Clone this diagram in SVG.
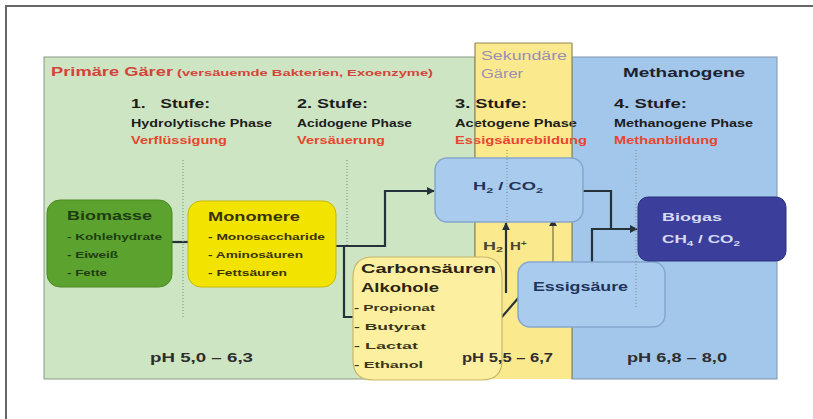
<svg xmlns="http://www.w3.org/2000/svg" width="813" height="419" viewBox="0 0 813 419">
  <defs>
    <style>
      text { font-family: "Liberation Sans", Arial, sans-serif; font-weight: bold; }
      .hdr { font-size: 13px; fill: #1c1c1c; }
      .phase { font-size: 10.5px; fill: #1c1c1c; }
      .red { font-size: 10.5px; fill: #e8452f; }
      .ph { font-size: 12.5px; fill: #2e2e2e; }
      .title { font-size: 13px; }
      .item { font-size: 9.5px; }
      .conn { fill: none; stroke: #26323a; stroke-width: 2.2; }
      .guide { fill: none; stroke: #7d8b80; stroke-width: 1; stroke-dasharray: 1 2; }
      .bluebox { fill: #a9cbee; stroke: #86a6cc; stroke-width: 1.5; }
    </style>
    <marker id="arrow" viewBox="0 0 10 10" refX="9" refY="5" markerWidth="8" markerHeight="8" orient="auto" markerUnits="userSpaceOnUse">
      <path d="M0,0 L10,5 L0,10 z" fill="#26323a"/>
    </marker>
  </defs>

  <rect width="813" height="419" fill="#ffffff"/>
  <!-- outer frame -->
  <path d="M6,419 V6 H813" fill="none" stroke="#666666" stroke-width="2"/>

  <!-- phase panels -->
  <g id="panels">
    <rect x="44" y="57" width="431" height="322" fill="#cde5c3" stroke="#8a9a88" stroke-width="1"/>
    <rect x="572" y="57" width="205" height="322" fill="#a3c7ea" stroke="#7c93ad" stroke-width="1"/>
    <rect x="475" y="43" width="97" height="336" fill="#fbe98e"/>
  </g>

  <!-- phase headings -->
  <g id="headings">
    <text x="51" y="76" fill="#d4443a" style="font-size:12.5px" textLength="122" lengthAdjust="spacingAndGlyphs">Primäre Gärer</text>
    <text x="177" y="76" fill="#d4443a" style="font-size:9.5px" textLength="256" lengthAdjust="spacingAndGlyphs">(versäuemde Bakterien, Exoenzyme)</text>
    <text x="481" y="60" fill="#9c8fb4" style="font-size:12px;font-weight:normal" textLength="86" lengthAdjust="spacingAndGlyphs">Sekundäre</text>
    <text x="481" y="78" fill="#9c8fb4" style="font-size:12px;font-weight:normal" textLength="42" lengthAdjust="spacingAndGlyphs">Gärer</text>
    <text x="623" y="77" fill="#1c2230" style="font-size:12.5px" textLength="122" lengthAdjust="spacingAndGlyphs">Methanogene</text>

    <text class="hdr" x="131" y="108" textLength="79" lengthAdjust="spacingAndGlyphs">1.&#160;&#160; Stufe:</text>
    <text class="hdr" x="297" y="108" textLength="71" lengthAdjust="spacingAndGlyphs">2. Stufe:</text>
    <text class="hdr" x="455" y="108" textLength="72" lengthAdjust="spacingAndGlyphs">3. Stufe:</text>
    <text class="hdr" x="614" y="108" textLength="73" lengthAdjust="spacingAndGlyphs">4. Stufe:</text>

    <text class="phase" x="131" y="127" textLength="141" lengthAdjust="spacingAndGlyphs">Hydrolytische Phase</text>
    <text class="phase" x="297" y="127" textLength="115" lengthAdjust="spacingAndGlyphs">Acidogene Phase</text>
    <text class="phase" x="455" y="127" textLength="122" lengthAdjust="spacingAndGlyphs">Acetogene Phase</text>
    <text class="phase" x="614" y="127" textLength="139" lengthAdjust="spacingAndGlyphs">Methanogene Phase</text>

    <text class="red" x="131" y="144" textLength="96" lengthAdjust="spacingAndGlyphs">Verflüssigung</text>
    <text class="red" x="297" y="144" textLength="88" lengthAdjust="spacingAndGlyphs">Versäuerung</text>
    <text class="red" x="455" y="144" textLength="132" lengthAdjust="spacingAndGlyphs">Essigsäurebildung</text>
    <text class="red" x="614" y="144" textLength="104" lengthAdjust="spacingAndGlyphs">Methanbildung</text>

    <!-- yellow column edges drawn over the heading text -->
    <path d="M475,43 V379 M572,43 V379 M475,43 H572" fill="none" stroke="#8f8a55" stroke-width="1.2"/>

    <text class="ph" x="150" y="362" textLength="103" lengthAdjust="spacingAndGlyphs">pH 5,0 – 6,3</text>
    <text class="ph" x="627" y="362" textLength="100" lengthAdjust="spacingAndGlyphs">pH 6,8 – 8,0</text>
  </g>

  <!-- connectors -->
  <g id="connectors">
    <path class="conn" d="M172,242 H188"/>
    <path class="conn" d="M336,246 H385 V191 H434" marker-end="url(#arrow)"/>
    <path class="conn" d="M344,246 V317 H353"/>
    <path class="conn" d="M506,293 V223" stroke="#3a3420" marker-end="url(#arrow)"/>
    <path class="conn" d="M553,262 V219" style="stroke:#857744;stroke-width:1.3" marker-end="url(#arrow)"/>
    <path class="conn" d="M501,318 L520,296"/>
    <path class="conn" d="M583,191 H611 V229"/>
    <path class="conn" d="M592,262 V229 H637" marker-end="url(#arrow)"/>
    <text x="483" y="250" fill="#4a4530" style="font-size:10px" textLength="20" lengthAdjust="spacingAndGlyphs">H<tspan style="font-size:7px" dy="2">2</tspan></text>
    <text x="510" y="250" fill="#4a4530" style="font-size:10px" textLength="17" lengthAdjust="spacingAndGlyphs">H<tspan style="font-size:7px" dy="-4">+</tspan></text>
  </g>

  <g id="biomasse">
    <rect x="47" y="200" width="125" height="87" rx="13" fill="#5ca22e" stroke="#4b8a22" stroke-width="1"/>
    <text class="title" x="67" y="220" fill="#1e3d12" textLength="85" lengthAdjust="spacingAndGlyphs">Biomasse</text>
    <text class="item" x="67" y="240" fill="#1e3d12" textLength="95" lengthAdjust="spacingAndGlyphs">- Kohlehydrate</text>
    <text class="item" x="67" y="258" fill="#1e3d12" textLength="51" lengthAdjust="spacingAndGlyphs">- Eiweiß</text>
    <text class="item" x="67" y="276" fill="#1e3d12" textLength="40" lengthAdjust="spacingAndGlyphs">- Fette</text>
  </g>

  <g id="monomere">
    <rect x="188" y="201" width="148" height="86" rx="13" fill="#f2e300" stroke="#c7b900" stroke-width="1"/>
    <text class="title" x="208" y="221" fill="#3a3200" textLength="92" lengthAdjust="spacingAndGlyphs">Monomere</text>
    <text class="item" x="208" y="240" fill="#3a3200" textLength="117" lengthAdjust="spacingAndGlyphs">- Monosaccharide</text>
    <text class="item" x="208" y="258" fill="#3a3200" textLength="95" lengthAdjust="spacingAndGlyphs">- Aminosäuren</text>
    <text class="item" x="208" y="276" fill="#3a3200" textLength="79" lengthAdjust="spacingAndGlyphs">- Fettsäuren</text>
  </g>

  <g id="h2co2">
    <rect class="bluebox" x="435" y="158" width="148" height="64" rx="12"/>
    <text x="473" y="190" fill="#22345a" style="font-size:11.5px" textLength="70" lengthAdjust="spacingAndGlyphs">H<tspan style="font-size:8px" dy="3">2</tspan><tspan dy="-3"> / CO</tspan><tspan style="font-size:8px" dy="3">2</tspan></text>
  </g>

  <g id="carbonsaeuren">
    <path d="M373,257 H482 Q502,257 502,277 V360 Q502,380 482,380 H373 Q353,380 353,360 V277 Q353,257 373,257 Z" fill="#fcef9f" stroke="#c7b76a" stroke-width="1.2"/>
    <text class="title" x="361" y="273" fill="#2a2412" textLength="135" lengthAdjust="spacingAndGlyphs">Carbonsäuren</text>
    <text class="title" x="361" y="292" fill="#2a2412" textLength="78" lengthAdjust="spacingAndGlyphs">Alkohole</text>
    <text class="item" x="354" y="311" fill="#3a3418" textLength="81" lengthAdjust="spacingAndGlyphs">- Propionat</text>
    <text class="item" x="354" y="330" fill="#3a3418" textLength="72" lengthAdjust="spacingAndGlyphs">- Butyrat</text>
    <text class="item" x="354" y="349" fill="#3a3418" textLength="64" lengthAdjust="spacingAndGlyphs">- Lactat</text>
    <text class="item" x="354" y="368" fill="#3a3418" textLength="69" lengthAdjust="spacingAndGlyphs">- Ethanol</text>
  </g>

  <g id="essigsaeure">
    <rect class="bluebox" x="518" y="262" width="147" height="65" rx="12"/>
    <text x="533" y="291" fill="#22345a" style="font-size:12px" textLength="95" lengthAdjust="spacingAndGlyphs">Essigsäure</text>
  </g>

  <g id="biogas">
    <rect x="638" y="197" width="148" height="64" rx="10" fill="#3b3f9b" stroke="#2e3180" stroke-width="1"/>
    <text x="662" y="221" fill="#d6dbf5" style="font-size:11px" textLength="60" lengthAdjust="spacingAndGlyphs">Biogas</text>
    <text x="662" y="243" fill="#d6dbf5" style="font-size:11px" textLength="78" lengthAdjust="spacingAndGlyphs">CH<tspan style="font-size:7.5px" dy="3">4</tspan><tspan dy="-3"> / CO</tspan><tspan style="font-size:7.5px" dy="3">2</tspan></text>
  </g>

  <text class="ph" x="462" y="362" textLength="91" lengthAdjust="spacingAndGlyphs">pH 5,5 – 6,7</text>

  <!-- stage separators -->
  <g id="separators">
    <path class="guide" d="M183,160 V318"/>
    <path class="guide" d="M347,160 V245"/>
    <path class="guide" d="M507,150 V225"/>
    <path class="guide" d="M636,150 V307"/>
  </g>
</svg>
